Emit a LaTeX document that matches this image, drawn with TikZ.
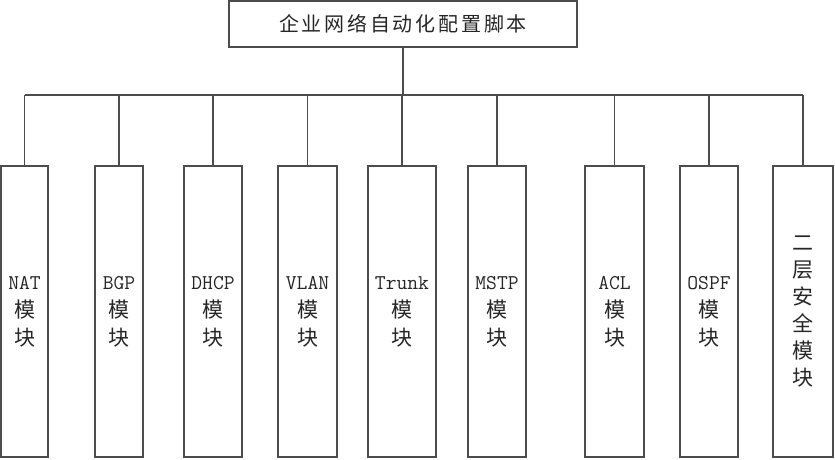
\documentclass[tikz,border=0pt]{standalone}
\usepackage{fontspec}
\newfontfamily\cjk{Noto Sans CJK SC}
\newfontfamily\cjktitle[LetterSpace=14]{Noto Sans CJK SC}
\tikzset{
  box/.style={draw=black!70, line width=1.2pt, inner sep=0pt, text=black!85, align=center},
  modbox/.style={box, minimum width=#1, minimum height=291pt, font=\fontsize{21}{28}\selectfont},
  link/.style={draw=black!70, line width=1.2pt},
}
\begin{document}
\begin{tikzpicture}[x=1pt,y=-1pt]
	\useasboundingbox (0,0) rectangle (835,459);
	% root
	\node[box, minimum width=348pt, minimum height=46pt, font=\fontsize{20}{24}\selectfont] (top) at (403,24) {\cjktitle 企业网络自动化配置脚本};
	% modules
	\node[modbox=47pt] (nat) at (24.5,311.5) {{\ttfamily NAT}\\{\cjk 模}\\{\cjk 块}};
	\node[modbox=48pt] (bgp) at (119,311.5) {{\ttfamily BGP}\\{\cjk 模}\\{\cjk 块}};
	\node[modbox=58pt] (dhcp) at (213,311.5) {{\ttfamily DHCP}\\{\cjk 模}\\{\cjk 块}};
	\node[modbox=59pt] (vlan) at (307.5,311.5) {{\ttfamily VLAN}\\{\cjk 模}\\{\cjk 块}};
	\node[modbox=68pt] (trunk) at (402,311.5) {{\ttfamily Trunk}\\{\cjk 模}\\{\cjk 块}};
	\node[modbox=58pt] (mstp) at (497,311.5) {{\ttfamily MSTP}\\{\cjk 模}\\{\cjk 块}};
	\node[modbox=59pt] (acl) at (614.5,311.5) {{\ttfamily ACL}\\{\cjk 模}\\{\cjk 块}};
	\node[modbox=58pt] (ospf) at (709,311.5) {{\ttfamily OSPF}\\{\cjk 模}\\{\cjk 块}};
	\node[modbox=60pt, font=\fontsize{21}{27}\selectfont\cjk] (l2) at (803,311.5) {二\\层\\安\\全\\模\\块};
	% connectors
	\coordinate (bus) at (403,95);
	\draw[link] (top.south) -- (top.south |- bus);
	\draw[link] (nat.north |- bus) -- (l2.north |- bus);
	\foreach \m in {nat,bgp,dhcp,vlan,trunk,mstp,acl,ospf,l2}
		\draw[link] (\m.north) -- (\m.north |- bus);
\end{tikzpicture}
\end{document}
